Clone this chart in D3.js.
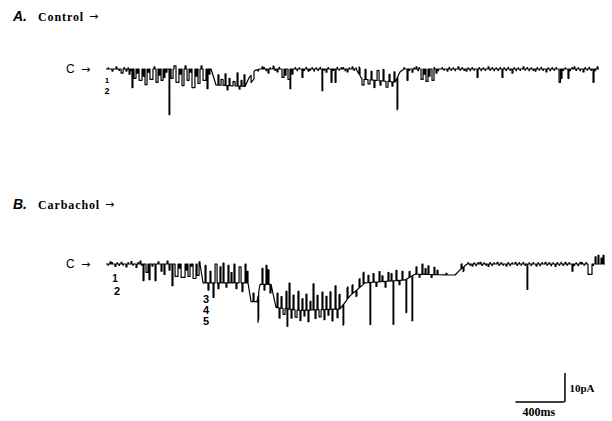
<!DOCTYPE html>
<html>
<head>
<meta charset="utf-8">
<script src="https://cdn.jsdelivr.net/npm/d3@7"></script>
<style>
  body { margin: 0; background: #fff; }
  svg { display: block; }
</style>
</head>
<body>
<svg width="612" height="421"></svg>
<script>
// closed-level drift [ms, pA] and openings [start ms, duration ms, amplitude pA]
const levelA = [[0, 0], [893, 0], [935, -5.5], [1182, -6], [1216, -3], [1267, -0.5], [1309, 0],
  [2125, 0], [2176, -3.5], [2457, -4.5], [2499, -1], [2533, 0], [4190, 0]];

const eventsA = [
  [51, 8, -0.7], [85, 8, 0.7], [128, 17, -1.4], [170, 8, -0.7], [196, 8, -1.8], [221, 8, -6.4],
  [238, 17, -3.2], [264, 8, -1.4], [281, 25, -3.9], [315, 8, -2.5], [332, 17, -5.4], [357, 8, -1.1],
  [374, 25, -3.6], [408, 8, 0.7], [425, 17, -4.6], [451, 8, -2.1], [468, 17, -3.9], [493, 8, -2.9],
  [510, 8, -1.1], [536, 6, -15.7],
  [553, 17, -3.2], [578, 17, 1.1], [595, 25, -4.6], [629, 8, -1.8], [646, 17, -5.7], [672, 8, 1.1],
  [689, 17, -3.9], [714, 8, -1.1], [731, 25, -6.4], [765, 8, -2.5], [782, 17, -5], [808, 8, 1.1],
  [825, 25, -3.9], [859, 8, -6.8], [876, 8, -1.8],
  [952, 8, 3.5], [978, 17, 2], [1012, 8, 4], [1029, 8, -1.5], [1046, 8, 2.5], [1080, 17, 1.5],
  [1114, 8, 4.5], [1131, 8, -1], [1148, 8, 2], [1173, 8, 4],
  [1233, 25, -2.5],
  [1326, 8, 0.7], [1377, 8, -1.4], [1420, 8, 1], [1454, 8, -1],
  [1496, 17, -2.9], [1522, 8, -2.1], [1547, 17, -3.6], [1564, 6, -6.8], [1581, 8, -1.8],
  [1666, 8, -2.9], [1717, 8, -0.7], [1836, 6, -7.5], [1870, 8, -1.1], [1913, 8, -4.6], [1947, 8, -4.6],
  [1998, 8, 0.4], [2049, 8, -1], [2091, 8, 0.7],
  [2151, 8, 2.5], [2176, 17, -2], [2202, 8, 3.5], [2227, 17, -1.5], [2253, 8, 3], [2278, 8, -2.5],
  [2304, 17, 3.5], [2329, 8, -1.5], [2355, 8, 4], [2380, 17, -2], [2406, 8, 2.5], [2431, 8, -1.5],
  [2448, 8, 3.5], [2474, 6, -11],
  [2559, 8, -3.9], [2601, 8, -1.1], [2635, 8, 0.7], [2678, 17, -3.6], [2703, 8, -1.8], [2720, 17, -4.3],
  [2746, 8, -2.5], [2771, 17, -3.9], [2805, 8, -1.4],
  [2899, 8, -0.7], [2992, 8, 0.7], [3060, 8, -0.7], [3154, 8, -2.9], [3247, 8, 0.7], [3366, 8, -2.9],
  [3451, 8, -1.4], [3545, 8, 0.7], [3647, 8, -0.7], [3740, 8, -1], [3851, 12, -4.6], [3868, 8, -3.2],
  [3927, 8, -3.2], [3978, 8, 0.7], [4055, 8, -1], [4140, 8, -4.6], [4174, 8, 0.7]
];

// brief low-amplitude flickers on the closed level
const flickerA = [
  [17, 4, 0.4], [110, 4, -0.5], [153, 4, 0.5], [187, 4, 0.4], [208, 4, -0.6],
  [1292, 4, -0.5], [1343, 4, 0.5], [1360, 4, -0.6], [1394, 4, 0.4], [1437, 4, -0.5], [1471, 4, 0.6],
  [1607, 4, 0.5], [1624, 4, -0.6], [1641, 4, 0.4], [1683, 4, -0.5], [1700, 4, 0.6], [1734, 4, -0.4],
  [1751, 4, 0.5], [1768, 4, -0.7], [1785, 4, 0.4], [1802, 4, -0.5], [1819, 4, 0.6], [1853, 4, -0.4],
  [1887, 4, 0.5], [1930, 4, -0.5], [1964, 4, 0.6], [1981, 4, -0.4], [2015, 4, 0.5], [2032, 4, -0.6],
  [2066, 4, 0.4], [2108, 4, -0.5], [2125, 4, 0.4],
  [2533, 4, 0.5], [2576, 4, -0.5], [2618, 4, 0.4], [2652, 4, -0.6], [2661, 4, 0.5], [2788, 4, 0.5],
  [2822, 4, -0.6],
  [2856, 4, 0.5], [2873, 4, -0.4], [2916, 4, 0.6], [2933, 4, -0.5], [2950, 4, 0.4], [2967, 4, -0.6],
  [3009, 4, -0.4], [3026, 4, 0.5], [3043, 4, -0.5], [3077, 4, 0.4], [3094, 4, -0.6], [3111, 4, 0.5],
  [3128, 4, -0.4], [3171, 4, 0.5], [3188, 4, -0.6], [3205, 4, 0.4], [3222, 4, -0.5], [3264, 4, -0.4],
  [3281, 4, 0.5], [3298, 4, -0.6], [3315, 4, 0.4], [3332, 4, -0.5], [3349, 4, 0.5], [3383, 4, 0.4],
  [3400, 4, -0.5], [3417, 4, 0.6], [3434, 4, -0.4], [3468, 4, 0.5], [3485, 4, -0.6], [3502, 4, 0.4],
  [3519, 4, -0.5], [3562, 4, -0.4], [3579, 4, 0.5], [3596, 4, -0.6], [3613, 4, 0.4], [3630, 4, -0.5],
  [3664, 4, 0.5], [3681, 4, -0.4], [3698, 4, 0.6], [3715, 4, -0.5], [3757, 4, 0.4], [3774, 4, -0.6],
  [3791, 4, 0.5], [3808, 4, -0.4], [3825, 4, 0.5], [3885, 4, -0.5], [3902, 4, 0.4], [3944, 4, -0.6],
  [3961, 4, 0.5], [3995, 4, -0.5], [4012, 4, 0.4], [4029, 4, -0.6], [4072, 4, 0.5], [4089, 4, -0.4],
  [4106, 4, 0.6], [4123, 4, -0.5], [4157, 4, -0.6]
];

const levelB = [[0, 0], [799, 0], [825, -6.5], [1207, -6.5], [1233, -13], [1284, -13], [1309, -7],
  [1403, -7], [1445, -15], [1649, -16], [1989, -15.5], [2074, -11], [2202, -6.5], [2542, -5.5],
  [2627, -3.5], [2967, -3.8], [3009, -2], [3069, 0], [4242, 0]];

const eventsB = [
  [34, 8, 0.7], [76, 8, -0.8], [128, 8, 0.6], [170, 8, -1], [212, 8, 0.8], [255, 8, -1.2], [289, 8, 1],
  [315, 8, -5.7], [340, 17, -2.9], [366, 8, -5.4], [391, 8, -0.7], [417, 8, -5.7], [442, 8, 0.7],
  [468, 8, -2.5], [493, 8, -3.6], [519, 8, 1], [536, 8, -2.1], [561, 8, -7.5],
  [587, 25, -4.3], [620, 8, -1.4], [638, 34, -4.6], [680, 8, -2.1], [697, 17, -4.3], [723, 8, -0.7],
  [740, 25, -5], [774, 17, -3.9], [791, 8, 0.7],
  [842, 8, 6], [867, 8, -2.5], [884, 8, 4], [910, 8, -5], [927, 17, 6.5], [952, 8, -2], [969, 8, 5.5],
  [995, 8, 6.8], [1020, 8, -1.5], [1037, 8, 6], [1063, 8, 3.5], [1088, 8, 6.5], [1105, 8, -2],
  [1131, 17, 5.5], [1156, 8, -3], [1182, 8, 6.5], [1199, 8, 4],
  [1250, 8, 3], [1292, 6, -9],
  [1326, 8, 5.5], [1343, 8, -2], [1360, 8, 6.5], [1377, 8, 5], [1394, 8, -3],
  [1454, 8, 5], [1471, 8, -3.5], [1488, 8, 4], [1505, 17, -2], [1530, 8, 6], [1539, 6, -6], [1556, 8, 9],
  [1573, 8, -3], [1590, 8, 5], [1607, 17, -2.5], [1632, 8, 6.5], [1649, 8, -3.5], [1666, 8, 4],
  [1683, 8, -2], [1700, 8, 5.5], [1717, 8, -4], [1734, 8, 3], [1760, 8, 9], [1777, 8, -3], [1794, 8, 5],
  [1811, 17, -2.5], [1836, 8, 6], [1853, 8, -3.5], [1870, 8, 4.5], [1887, 8, -2], [1904, 8, 6],
  [1921, 8, -4], [1947, 8, 8], [1964, 8, -3], [1981, 8, 5], [2015, 6, -7],
  [2049, 8, 4], [2091, 8, 3], [2125, 8, -2], [2151, 8, 3], [2185, 8, 4],
  [2227, 8, 2.5], [2244, 6, -14.5], [2270, 8, 3], [2295, 8, -1.5], [2321, 8, 3.5], [2346, 8, 2],
  [2372, 8, -2], [2397, 8, 3], [2423, 8, 2.5], [2440, 6, -15], [2465, 8, 3.5], [2491, 8, -1.5],
  [2516, 8, 3], [2550, 6, -11.5], [2576, 8, 2], [2601, 6, -15.5],
  [2635, 8, 2.5], [2661, 8, -1], [2686, 8, 3.5], [2712, 8, 2], [2737, 8, 3], [2763, 8, -1],
  [2788, 8, 2.5], [2814, 8, 1.5],
  [2890, 8, 0.5], [3018, 8, 1.5], [3035, 8, -1.5],
  [3111, 8, -0.7], [3179, 8, 0.6], [3247, 8, -0.8], [3324, 8, 0.6], [3400, 8, -0.7], [3477, 8, 0.6],
  [3579, 6, -8.8], [3655, 8, -0.7], [3732, 8, 0.6], [3817, 8, -0.8], [3902, 8, 0.6], [3961, 8, -2.5],
  [4029, 8, 0.6], [4097, 34, -3.6], [4157, 8, 2.5], [4182, 8, 3], [4208, 8, 2], [4225, 8, 3]
];

const flickerB = [
  [17, 4, -0.4], [51, 4, 0.5], [93, 4, 0.4], [110, 4, -0.5], [145, 4, -0.4], [187, 4, 0.5],
  [229, 4, -0.4], [272, 4, 0.5], [302, 4, -0.4],
  [3077, 4, 0.5], [3094, 4, -0.4], [3128, 4, 0.4], [3145, 4, -0.6], [3162, 4, 0.5], [3196, 4, -0.5],
  [3213, 4, 0.4], [3230, 4, -0.4], [3264, 4, 0.5], [3281, 4, -0.6], [3298, 4, 0.4], [3341, 4, -0.5],
  [3358, 4, 0.5], [3375, 4, -0.4], [3417, 4, 0.5], [3434, 4, -0.6], [3451, 4, 0.4], [3494, 4, -0.5],
  [3511, 4, 0.5], [3528, 4, -0.4], [3545, 4, 0.6], [3562, 4, -0.5], [3596, 4, 0.4], [3613, 4, -0.5],
  [3630, 4, 0.5], [3672, 4, 0.4], [3689, 4, -0.6], [3706, 4, 0.5], [3749, 4, -0.4], [3766, 4, 0.5],
  [3783, 4, -0.6], [3800, 4, 0.4], [3834, 4, 0.5], [3851, 4, -0.4], [3868, 4, 0.6], [3885, 4, -0.5],
  [3919, 4, -0.4], [3936, 4, 0.5], [3978, 4, -0.5], [3995, 4, 0.4], [4012, 4, -0.6], [4046, 4, 0.5],
  [4063, 4, -0.4], [4080, 4, 0.5], [4140, 4, -0.5]
];

const panelTitles = ["Control", "Carbachol"];
const panelLetters = ["A.", "B."];
const levelLabelsA = ["1", "2"];
const levelLabelsB = ["1", "2", "3", "4", "5"];
const scaleBar = { ms: 400, pA: 10 };

const svg = d3.select("svg");

const x = d3.scaleLinear().domain([0, 4250]).range([106, 606]);
const yA = d3.scaleLinear().domain([0, -10]).range([69, 98]);
const yB = d3.scaleLinear().domain([0, -10]).range([264, 293]);

function tracePoints(level, events) {
  const base = d3.scaleLinear()
    .domain(level.map(d => d[0]))
    .range(level.map(d => d[1]))
    .clamp(true);
  const tEnd = level[level.length - 1][0];
  const pts = [[0, base(0)]];
  let cursor = 0;
  const addLevel = (from, to) => {
    level.forEach(([t]) => {
      if (t > from && t < to) pts.push([t, base(t)]);
    });
  };
  events.slice().sort((a, b) => a[0] - b[0]).forEach(([t, dur, amp]) => {
    if (t < cursor) return;
    addLevel(cursor, t);
    pts.push([t, base(t)], [t, base(t) + amp], [t + dur, base(t + dur) + amp], [t + dur, base(t + dur)]);
    cursor = t + dur;
  });
  addLevel(cursor, tEnd);
  pts.push([tEnd, base(tEnd)]);
  return pts;
}

function drawTrace(level, events, y) {
  const line = d3.line()
    .x(d => x(d[0]))
    .y(d => y(d[1]));
  svg.append("path")
    .attr("d", line(tracePoints(level, events)))
    .attr("fill", "none")
    .attr("stroke", "#000")
    .attr("stroke-width", 1.2)
    .attr("stroke-linejoin", "round");
}

drawTrace(levelA, eventsA.concat(flickerA), yA);
drawTrace(levelB, eventsB.concat(flickerB), yB);

const serif = "'Liberation Serif', 'Times New Roman', serif";
const sans = "'Liberation Sans', Arial, sans-serif";

// panel headings
const headY = [21, 209];
headY.forEach((hy, i) => {
  svg.append("text")
    .attr("x", 13).attr("y", hy)
    .style("font-family", sans)
    .style("font-weight", "bold").style("font-style", "italic")
    .style("font-size", "14px")
    .text(panelLetters[i]);
  const title = svg.append("text")
    .attr("x", 38).attr("y", hy)
    .style("font-family", serif)
    .style("font-weight", "bold")
    .style("font-size", "12px")
    .style("letter-spacing", "0.9px")
    .text(panelTitles[i]);
  const w = title.node().getComputedTextLength();
  svg.append("text")
    .attr("x", 38 + w + 5).attr("y", hy - 1)
    .style("font-family", "'DejaVu Sans', sans-serif")
    .style("font-size", "11px")
    .text("\u2192");
});

// closed-level markers
[yA, yB].forEach(y => {
  svg.append("text")
    .attr("x", 66).attr("y", y(0) + 4)
    .style("font-family", sans)
    .style("font-size", "12px")
    .text("C");
  svg.append("text")
    .attr("x", 81).attr("y", y(0) + 4)
    .style("font-family", "'DejaVu Sans', sans-serif")
    .style("font-size", "11px")
    .text("\u2192");
});

const numStyle = (sel, size) => sel
  .style("font-family", sans)
  .style("font-weight", "bold")
  .style("font-size", size + "px")
  .attr("text-anchor", "middle");

const posA = [[107, 83, 8], [107, 94, 9]];
levelLabelsA.forEach((t, i) => {
  svg.append("text").attr("x", posA[i][0]).attr("y", posA[i][1]).call(numStyle, posA[i][2]).text(t);
});
const posB = [[115, 282, 10], [117, 295, 11], [206, 303, 11], [206, 314, 11], [206, 325, 11]];
levelLabelsB.forEach((t, i) => {
  svg.append("text").attr("x", posB[i][0]).attr("y", posB[i][1]).call(numStyle, posB[i][2]).text(t);
});

// scale bar
const yBar = d3.scaleLinear().domain([0, scaleBar.pA]).range([402, 373]);
const barStart = 3480;
const barEnd = barStart + scaleBar.ms;
svg.append("line")
  .attr("x1", x(barStart)).attr("x2", x(barEnd) + 2)
  .attr("y1", yBar(0)).attr("y2", yBar(0))
  .attr("stroke", "#000").attr("stroke-width", 1.5);
svg.append("line")
  .attr("x1", x(barEnd) + 2.5).attr("x2", x(barEnd) + 2.5)
  .attr("y1", yBar(0)).attr("y2", yBar(scaleBar.pA))
  .attr("stroke", "#000").attr("stroke-width", 1.5);
svg.append("text")
  .attr("x", x(barEnd) + 7).attr("y", yBar(scaleBar.pA / 2) + 4)
  .style("font-family", serif)
  .style("font-weight", "bold").style("font-size", "11px")
  .text(scaleBar.pA + "pA");
svg.append("text")
  .attr("x", x(barStart + scaleBar.ms / 2)).attr("y", 416)
  .attr("text-anchor", "middle")
  .style("font-family", serif)
  .style("font-weight", "bold").style("font-size", "12px")
  .text(scaleBar.ms + "ms");
</script>
</body>
</html>
